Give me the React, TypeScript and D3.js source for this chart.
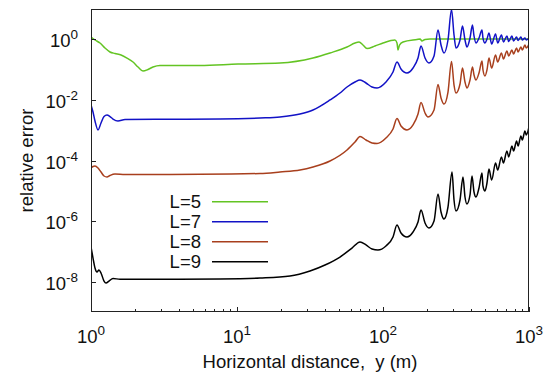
import * as d3 from 'd3';
import { useEffect, useRef } from 'react';

const legendLabels = ['L=5', 'L=7', 'L=8', 'L=9'];
const lineColors = ['#63c423', '#1212c6', '#a83f1d', '#000000'];
const xTickPowers = [0, 1, 2, 3];
const yTickPowers = [0, -2, -4, -6, -8];

// [horizontal distance (m), relative error]
const errL5: [number, number][] = [
    [1, 1.19], [1.065, 0.948], [1.152, 0.755], [1.247, 0.516], [1.349, 0.381], [1.46, 0.34],
    [1.606, 0.303], [1.764, 0.241], [1.94, 0.178], [2.099, 0.122], [2.271, 0.09], [2.457, 0.101],
    [2.659, 0.122], [2.969, 0.137], [3.644, 0.137], [5.58, 0.137], [10.16, 0.153], [19.7, 0.165],
    [33.15, 0.241], [43.35, 0.353], [56.7, 0.557], [64.3, 0.755], [68.5, 0.815], [72.9, 0.648],
    [77.7, 0.497], [88.1, 0.601], [100, 0.755], [120.8, 0.948], [124.7, 0.755], [126.7, 0.443],
    [129.7, 0.648], [137.1, 0.815], [171, 0.985], [179.4, 1.02], [184.9, 0.879], [194, 0.985],
    [209.8, 1.02], [1000, 1.03]
];
const errL7: [number, number][] = [
    [1, 6.79e-3], [1.032, 3.99e-3], [1.065, 2.01e-3], [1.117, 1.02e-3], [1.171, 1.73e-3],
    [1.228, 2.83e-3], [1.287, 3.18e-3], [1.349, 2.83e-3], [1.415, 2.34e-3], [1.53, 2.01e-3],
    [1.71, 2.26e-3], [2.969, 2.29e-3], [7.65, 2.34e-3], [14.37, 2.53e-3], [19.7, 2.73e-3],
    [27.01, 3.43e-3], [33.15, 4.64e-3], [43.35, 9.93e-3], [50.76, 1.69e-2], [56.7, 2.67e-2],
    [64.3, 3.9e-2], [69.6, 4.54e-2], [76.5, 3.61e-2], [84.1, 2.67e-2], [91, 2.47e-2],
    [104.8, 3.9e-2], [117.1, 8.33e-2], [124.7, 0.178], [132.8, 0.105], [146, 7.73e-2],
    [160.6, 0.113], [173.7, 0.241], [182.1, 0.601], [194, 0.241], [206.5, 0.165], [223.6, 0.281],
    [238.1, 2.03], [249.7, 0.648], [261.7, 0.353], [278.7, 0.948], [294.6, 9.6], [306.5, 1.39],
    [316.2, 0.516], [336.9, 0.948], [350.3, 2.75], [364.4, 0.948], [376, 0.557], [394.4, 1.1],
    [410, 2.96], [420.1, 1.29], [433.5, 0.755], [454.5, 1.1], [476.4, 2.03], [484, 1.1],
    [499.4, 0.755], [515.4, 1.02], [532.1, 1.61], [555, 0.7], [590, 1.5], [610, 0.755],
    [648, 1.39], [668, 0.815], [706, 1.29], [726, 0.846], [764, 1.29], [784, 0.879], [822, 1.19],
    [842, 0.913], [880, 1.19], [900, 0.948], [938, 1.1], [958, 0.948], [1000, 1.1]
];
const errL8: [number, number][] = [
    [1, 5.65e-5], [1.032, 6.34e-5], [1.065, 6.58e-5], [1.117, 5.65e-5], [1.171, 4.17e-5],
    [1.228, 3.08e-5], [1.287, 2.85e-5], [1.349, 3.2e-5], [1.46, 3.58e-5], [1.71, 3.45e-5],
    [5.58, 3.5e-5], [14.37, 3.72e-5], [19.7, 4.17e-5], [27.01, 4.85e-5], [33.15, 6.1e-5],
    [43.35, 9.62e-5], [56.7, 2.22e-4], [64.3, 4.08e-4], [69.6, 6.19e-4], [76.5, 4.75e-4],
    [84.1, 3.78e-4], [91, 3.64e-4], [104.8, 5.53e-4], [117.1, 1.1e-3], [124.7, 2.43e-3],
    [132.8, 1.38e-3], [146, 1.02e-3], [160.6, 1.49e-3], [173.7, 3.43e-3], [182.1, 8.2e-3],
    [194, 3.7e-3], [203.4, 2.73e-3], [223.6, 4.64e-3], [238.1, 3.22e-2], [249.7, 1.16e-2],
    [261.7, 7.33e-3], [278.7, 1.82e-2], [294.6, 0.185], [306.5, 3.1e-2], [316.2, 1.69e-2],
    [336.9, 3.35e-2], [350.3, 0.113], [364.4, 3.9e-2], [376, 2.47e-2], [394.4, 4.54e-2],
    [410, 0.122], [420.1, 6.64e-2], [433.5, 4.54e-2], [454.5, 7.73e-2], [476.4, 0.192],
    [484, 9.7e-2], [499.4, 6.15e-2], [515.4, 9.7e-2], [532.1, 0.241], [555, 0.113], [590, 0.303],
    [610, 0.178], [648, 0.353], [668, 0.224], [706, 0.411], [726, 0.281], [764, 0.443],
    [784, 0.327], [822, 0.516], [842, 0.381], [880, 0.557], [900, 0.443], [938, 0.648],
    [958, 0.516], [1000, 0.7]
];
const errL9: [number, number][] = [
    [1, 1.4e-7], [1.032, 6.05e-8], [1.065, 2.83e-8], [1.099, 2.09e-8], [1.134, 2.43e-8],
    [1.171, 1.94e-8], [1.228, 1.05e-8], [1.267, 9.06e-9], [1.328, 1.05e-8], [1.415, 1.28e-8],
    [1.58, 1.2e-8], [2.969, 1.2e-8], [7.65, 1.23e-8], [14.37, 1.32e-8], [23.07, 1.54e-8],
    [31.62, 2.26e-8], [40.07, 3.56e-8], [50.76, 6.53e-8], [61.3, 1.29e-7], [69.6, 2.04e-7],
    [76.5, 1.63e-7], [84.1, 1.2e-7], [92.4, 1.11e-7], [104.8, 1.51e-7], [117.1, 2.99e-7],
    [124.7, 7.43e-7], [132.8, 4.05e-7], [146, 2.99e-7], [160.6, 4.37e-7], [173.7, 9.33e-7],
    [182.1, 2.32e-6], [194, 8.65e-7], [206.5, 5.92e-7], [223.6, 1.01e-6], [238.1, 7.84e-6],
    [249.7, 2.0e-6], [261.7, 1.17e-6], [278.7, 2.92e-6], [297, 4.17e-5], [306.5, 4.97e-6],
    [316.2, 2.15e-6], [336.9, 4.97e-6], [353.1, 2.85e-5], [364.4, 6.24e-6], [376, 3.67e-6],
    [394.4, 7.27e-6], [407, 3.08e-5], [420.1, 9.13e-6], [433.5, 6.24e-6], [454.5, 1.24e-5],
    [476.4, 3.87e-5], [484, 1.44e-5], [499.4, 9.85e-6], [515.4, 1.81e-5], [532.1, 5.24e-5],
    [555, 2.27e-5], [590, 8.27e-5], [610, 4.85e-5], [648, 1.31e-4], [668, 8.27e-5],
    [706, 2.06e-4], [726, 1.31e-4], [764, 3.01e-4], [784, 2.06e-4], [822, 4.41e-4],
    [842, 3.01e-4], [880, 6.44e-4], [900, 4.75e-4], [938, 9.42e-4], [958, 6.95e-4],
    [1000, 1.28e-3]
];
const allSeries = [errL5, errL7, errL8, errL9];

const FONT = "'Liberation Sans', Arial, Helvetica, sans-serif";

const App = () => {
    const ref = useRef<SVGSVGElement>(null);
    useEffect(() => {
        DrawChart();
    }, []);
    const DrawChart = () => {
        const left = 91, right = 529, top = 9, bottom = 312;
        const svg = d3.select(ref.current);
        svg.selectAll('*').remove();

        const x: any = d3.scaleLog().domain([1, 1000]).range([left, right]);
        const y: any = d3.scaleLog().domain([1e-9, 1e1]).range([bottom, top]);

        svg.append('defs').append('clipPath').attr('id', 'plotClip')
            .append('rect')
            .attr('x', left).attr('y', top)
            .attr('width', right - left).attr('height', bottom - top);

        // curves
        const line = d3.line<[number, number]>()
            .x(d => x(d[0]))
            .y(d => y(d[1]))
            .curve(d3.curveMonotoneX);
        allSeries.forEach((s, i) => {
            svg.append('path')
                .attr('d', line(s) as string)
                .attr('fill', 'none')
                .attr('stroke', lineColors[i])
                .attr('stroke-width', 1.5)
                .attr('stroke-linejoin', 'round')
                .attr('clip-path', 'url(#plotClip)');
        });

        // frame
        svg.append('rect')
            .attr('x', left + 0.5).attr('y', top + 0.5)
            .attr('width', right - left - 1).attr('height', bottom - top - 1)
            .attr('fill', 'none').attr('stroke', '#222').attr('stroke-width', 1);

        // x ticks (inward)
        x.ticks().forEach((t: number) => {
            const major = Math.abs(Math.log10(t) - Math.round(Math.log10(t))) < 1e-9;
            const px = Math.round(x(t)) + 0.5;
            svg.append('line')
                .attr('x1', px).attr('x2', px)
                .attr('y1', bottom).attr('y2', bottom - (major ? 5 : 3))
                .attr('stroke', '#222');
        });
        // y ticks
        yTickPowers.forEach(p => {
            const py = Math.round(y(Math.pow(10, p))) + 0.5;
            svg.append('line')
                .attr('x1', left).attr('x2', left + 5)
                .attr('y1', py).attr('y2', py)
                .attr('stroke', '#222');
        });

        // tick labels
        xTickPowers.forEach(p => {
            const t = svg.append('text')
                .attr('x', x(Math.pow(10, p)))
                .attr('y', 342.5)
                .attr('text-anchor', 'middle')
                .style('font-family', FONT)
                .style('font-size', '18.5px')
                .attr('fill', '#111')
                .text('10');
            t.append('tspan').attr('dy', -8).style('font-size', '13.5px').text(String(p));
        });
        yTickPowers.forEach(p => {
            const t = svg.append('text')
                .attr('x', 78)
                .attr('y', y(Math.pow(10, p)) + 8)
                .attr('text-anchor', 'end')
                .style('font-family', FONT)
                .style('font-size', '18.5px')
                .attr('fill', '#111')
                .text('10');
            t.append('tspan').attr('dy', -8).style('font-size', '13.5px').text(String(p));
        });

        // axis titles
        svg.append('text')
            .attr('x', (left + right) / 2)
            .attr('y', 368)
            .attr('text-anchor', 'middle')
            .style('font-family', FONT)
            .style('font-size', '18.5px')
            .style('white-space', 'pre')
            .attr('fill', '#111')
            .text('Horizontal distance,  y (m)');
        svg.append('text')
            .attr('transform', 'translate(33,' + (top + bottom) / 2 + ') rotate(-90)')
            .attr('text-anchor', 'middle')
            .style('font-family', FONT)
            .style('font-size', '18.5px')
            .attr('fill', '#111')
            .text('relative error');

        // legend
        legendLabels.forEach((lab, i) => {
            const ly = 201.7 + 20 * i;
            svg.append('text')
                .attr('x', 201)
                .attr('y', ly + 6.5)
                .attr('text-anchor', 'end')
                .style('font-family', FONT)
                .style('font-size', '18.5px')
                .attr('fill', '#111')
                .text(lab);
            svg.append('line')
                .attr('x1', 212).attr('x2', 268)
                .attr('y1', ly).attr('y2', ly)
                .attr('stroke', lineColors[i])
                .attr('stroke-width', 1.5);
        });
    };
    return (
        <svg ref={ref} width={550} height={382}
            style={{ position: 'absolute', left: 0, top: 0, background: '#fff' }} />
    );
};
export default App;
